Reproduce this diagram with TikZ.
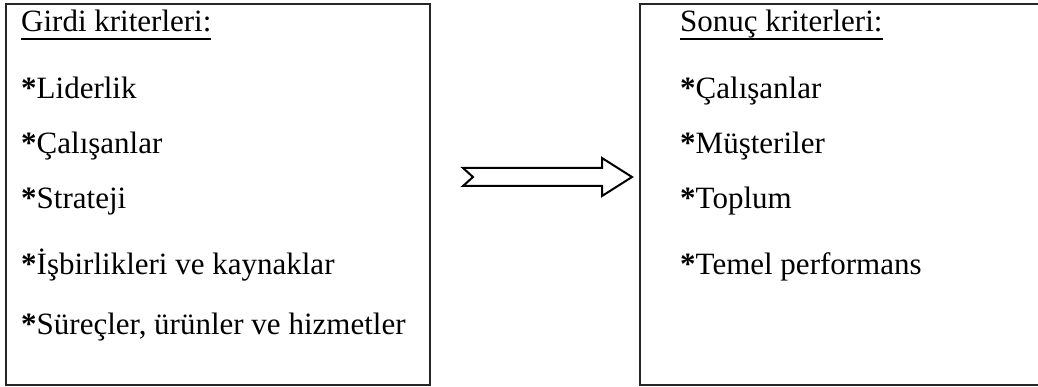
\documentclass[tikz,border=0pt]{standalone}
\usepackage{fontspec}
\setmainfont{Liberation Serif}
\newcommand\myul[1]{\setbox0\hbox{#1}\rlap{\rule[-8pt]{\wd0}{1.6pt}}\box0}
\tikzset{
  frame/.style={draw=black!85, line width=2pt},
  item/.style={anchor=base west, inner sep=0pt, font=\fontsize{31}{37}\selectfont},
  bigarrow/.style={draw=black, line width=2pt, line join=miter, fill=white}
}
\begin{document}
\begin{tikzpicture}[x=1pt,y=-1pt]
\useasboundingbox (0,0) rectangle (1038,387);
\clip (0,0) rectangle (1038,387);
% boxes
\draw[frame] (6,4) rectangle (430,385);
\draw[frame] (640,4) rectangle (1060,385);
% left texts
\node[item] (lh) at (21,32) {\myul{Girdi kriterleri:}};
\node[item] (l1) at (21,99) {\textbf{*}Liderlik};
\node[item] (l2) at (21,154) {\textbf{*}Çalışanlar};
\node[item] (l3) at (21,209) {\textbf{*}Strateji};
\node[item] (l4) at (21,274) {\textbf{*}İşbirlikleri ve kaynaklar};
\node[item] (l5) at (21,334) {\textbf{*}Süreçler, ürünler ve hizmetler};
% right texts
\node[item] (rh) at (680,32) {\myul{Sonuç kriterleri:}};
\node[item] (r1) at (680,99) {\textbf{*}Çalışanlar};
\node[item] (r2) at (680,154) {\textbf{*}Müşteriler};
\node[item] (r3) at (680,209) {\textbf{*}Toplum};
\node[item] (r4) at (680,274) {\textbf{*}Temel performans};
% arrow
\draw[bigarrow] (463,168) -- (602,168) -- (602,158) -- (632,177) -- (602,196) -- (602,186) -- (463,186) -- (473,177) -- cycle;
\end{tikzpicture}
\end{document}
